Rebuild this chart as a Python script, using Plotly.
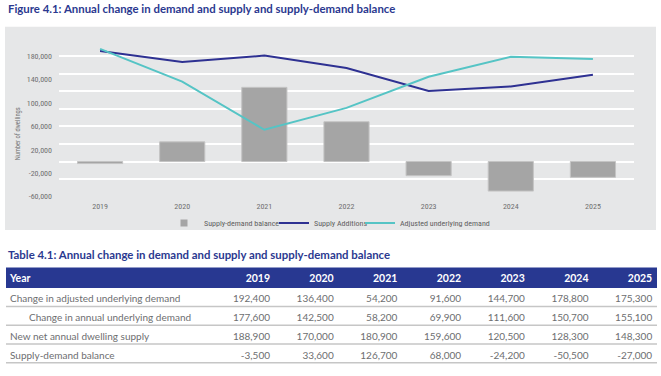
import plotly.graph_objects as go

W, H = 661, 376

years = ["2019", "2020", "2021", "2022", "2023", "2024", "2025"]
balance = [-3500, 33600, 126700, 68000, -24200, -50500, -27000]
supply = [188900, 170000, 180900, 159600, 120500, 128300, 148300]
adj_demand = [192400, 136400, 54200, 91600, 144700, 178800, 175300]
annual_demand = [177600, 142500, 58200, 69900, 111600, 150700, 155100]

ytick_vals = [-60000, -20000, 20000, 60000, 100000, 140000, 180000]
ytick_text = ["-60,000", "-20,000", "20,000", "60,000", "100,000", "140,000", "180,000"]

row_labels = [
    "Change in adjusted underlying demand",
    "Change in annual underlying demand",
    "New net annual dwelling supply",
    "Supply-demand balance",
]
row_indent = [False, True, False, False]
row_values = [adj_demand, annual_demand, supply, balance]

NAVY = "#2b3990"
HEADER = "#283891"
BAR = "#a5a5a5"
TEAL = "#55c4c5"
TXT = "#6d6e70"
NARROW = "Liberation Sans Narrow, Arial Narrow, Roboto Condensed, DejaVu Sans Condensed, sans-serif"
LATO = "Lato, Noto Sans, sans-serif"


def px(x):
    return x / W


def py(y):
    return 1 - y / H


# ---- table geometry (layout constants, pixels) ----
COL0_RIGHT = 270.0   # right edge of the 2019 column text
COL_STEP = 63.7
ROW0_Y = 285.0       # centre of row index 0 (header)
ROW_STEP = 19.0
LABEL_PX, INDENT_PX = 10.0, 29.0
HEAD_Y = -0.08

# table axes: x in column units (col c right edge), y in row units
x3_range = [(0 - COL0_RIGHT) / COL_STEP + 1, (W - COL0_RIGHT) / COL_STEP + 1]
y3_range = [(H - ROW0_Y) / ROW_STEP, (0 - ROW0_Y) / ROW_STEP]
label_x = [((INDENT_PX if ind else LABEL_PX) - COL0_RIGHT) / COL_STEP + 1 for ind in row_indent]
cols = list(range(1, len(years) + 1))
rows = list(range(1, len(row_labels) + 1))

fig = go.Figure()

# legend-only swatch for the bars (small square like the reference)
fig.add_trace(go.Scatter(
    x=[None], y=[None], name="Supply-demand balance", mode="markers",
    marker=dict(symbol="square", size=7, color=BAR), xaxis="x", yaxis="y",
    legend="legend",
))
fig.add_trace(go.Bar(
    x=years, y=balance, name="Supply-demand balance", showlegend=False,
    marker=dict(color=BAR, line=dict(color="#c4c4c4", width=1)),
    width=0.55, xaxis="x", yaxis="y",
))
fig.add_trace(go.Scatter(
    x=years, y=supply, name="Supply Additions", mode="lines",
    line=dict(color="#2e3192", width=2), xaxis="x", yaxis="y2", legend="legend2",
))
fig.add_trace(go.Scatter(
    x=years, y=adj_demand, name="Adjusted underlying demand", mode="lines",
    line=dict(color=TEAL, width=2), xaxis="x", yaxis="y2", legend="legend3",
))

# ---- table as text on its own axes ----
fmt = lambda v: f"{v:,}"
fig.add_trace(go.Scatter(
    x=[label_x[0]] + cols, y=[HEAD_Y] * (len(years) + 1), text=["Year"] + years,
    mode="text", textposition=["middle right"] + ["middle left"] * len(years),
    textfont=dict(family=LATO, size=10.5, color="white", weight="bold"),
    xaxis="x3", yaxis="y3", showlegend=False, hoverinfo="skip",
))
fig.add_trace(go.Scatter(
    x=label_x, y=rows, text=row_labels, mode="text", textposition="middle right",
    textfont=dict(family=LATO, size=10, color=TXT),
    xaxis="x3", yaxis="y3", showlegend=False, hoverinfo="skip",
))
for c, yr in zip(cols, years):
    fig.add_trace(go.Scatter(
        x=[c] * len(rows), y=rows, text=[fmt(rv[c - 1]) for rv in row_values],
        mode="text", textposition="middle left",
        textfont=dict(family=LATO, size=10, color=TXT),
        xaxis="x3", yaxis="y3", showlegend=False, hoverinfo="skip",
    ))

Y_RANGE = [-60000, 195000]

shapes = [
    dict(type="rect", xref="paper", yref="paper", x0=px(5), x1=px(656), y0=py(233), y1=py(27),
         fillcolor="#e6e7e8", line=dict(width=0), layer="below"),
    dict(type="rect", xref="paper", yref="paper", x0=px(6), x1=px(657), y0=py(292), y1=py(271),
         fillcolor=HEADER, line=dict(width=0), layer="below"),
]
for r in rows:
    shapes.append(dict(type="line", xref="paper", yref="y3", x0=px(6), x1=px(657),
                       y0=r + 0.35, y1=r + 0.35, line=dict(color="#c6c6c6", width=1.5),
                       layer="below"))

LEG_Y = py(226)
leg_common = dict(orientation="h", y=LEG_Y, yanchor="middle", xanchor="left",
                  font=dict(family=NARROW, size=8, color="#606060"), bgcolor="rgba(0,0,0,0)",
                  itemwidth=30)

fig.update_layout(
    width=W, height=H,
    margin=dict(l=0, r=0, t=0, b=0),
    paper_bgcolor="white",
    plot_bgcolor="rgba(0,0,0,0)",
    xaxis=dict(domain=[px(59), px(634)], showgrid=False, zeroline=False, showline=False,
               tickfont=dict(family=NARROW, size=8, color="#707070"), ticks="", ticklen=0,
               ticklabelstandoff=3),
    yaxis=dict(domain=[py(199.3), py(48)], range=Y_RANGE, tick0=0, dtick=30000,
               showgrid=True, gridcolor="white", gridwidth=1.5, zeroline=False,
               showticklabels=False, ticks=""),
    yaxis2=dict(overlaying="y", side="left", range=Y_RANGE, tickmode="array",
                tickvals=ytick_vals, ticktext=ytick_text, showgrid=False, zeroline=False,
                tickfont=dict(family=NARROW, size=8, color="#707070"), ticks="", ticklen=0,
                ticklabelstandoff=6),
    xaxis3=dict(domain=[0, 1], range=x3_range, visible=False, fixedrange=True),
    yaxis3=dict(domain=[0, 1], range=y3_range, visible=False, fixedrange=True),
    legend=dict(x=px(164), **leg_common),
    legend2=dict(x=px(274), **leg_common),
    legend3=dict(x=px(360), **leg_common),
    showlegend=True,
    shapes=shapes,
    annotations=[
        dict(text="Figure 4.1: Annual change in demand and supply and supply-demand balance",
             xref="paper", yref="paper", x=px(6), y=py(9), xanchor="left", yanchor="middle",
             showarrow=False, font=dict(family=LATO, size=11.4, color=NAVY, weight="bold")),
        dict(text="Table 4.1: Annual change in demand and supply and supply-demand balance",
             xref="paper", yref="paper", x=px(6), y=py(258), xanchor="left", yanchor="middle",
             showarrow=False, font=dict(family=LATO, size=11.4, color=NAVY, weight="bold")),
        dict(text="Number of dwellings", textangle=-90,
             xref="paper", yref="paper", x=px(18), y=py(136), xanchor="center", yanchor="middle",
             showarrow=False, font=dict(family=NARROW, size=6.5, color="#707070")),
    ],
)

fig.write_html("out.html", config={"displayModeBar": False},
               post_script="document.body.style.margin='0px';")
